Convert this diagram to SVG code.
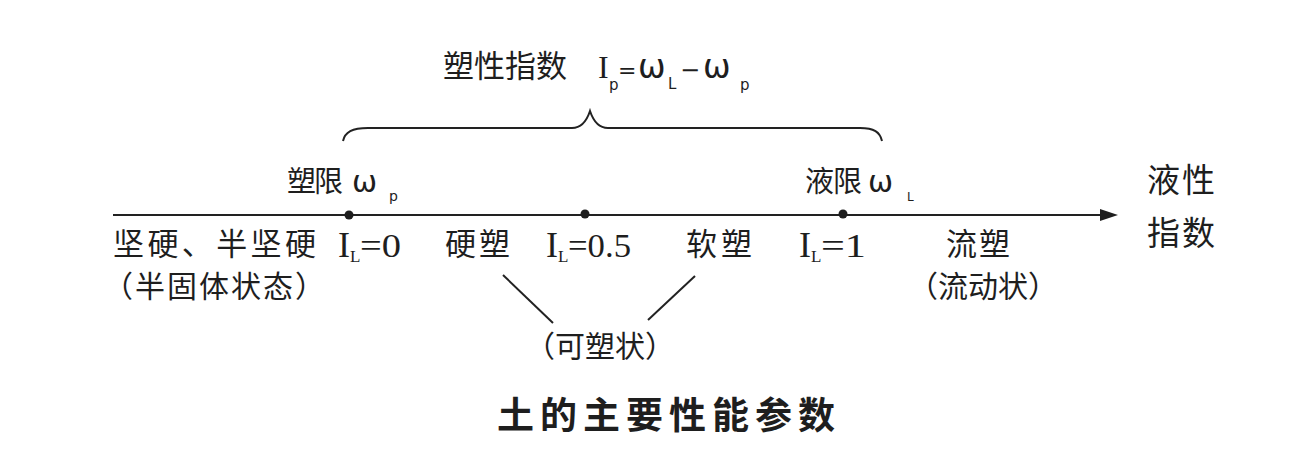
<svg xmlns="http://www.w3.org/2000/svg" width="1306" height="466" viewBox="0 0 1306 466">
<style>
.cjk{font-family:"Noto Sans CJK SC","Noto Sans",sans-serif;fill:#1e1e1e;}
.ser{font-family:"Liberation Serif","DejaVu Serif",serif;fill:#1e1e1e;}
.sans{font-family:"DejaVu Sans","Liberation Sans",sans-serif;fill:#1e1e1e;}
.ln{stroke:#222;stroke-width:2;fill:none;}
</style>
<defs>
<marker id="arr" markerWidth="20" markerHeight="14" refX="0" refY="7" orient="auto" markerUnits="userSpaceOnUse">
<path d="M0,1 L18,7 L0,13 Z" fill="#1e1e1e"/>
</marker>
</defs>
<rect width="1306" height="466" fill="#ffffff"/>
<g id="connectors">
<line class="ln" x1="113" y1="215" x2="1100" y2="215" marker-end="url(#arr)"/>
<path class="ln" stroke-width="2.5" d="M343,141 C345,132 352,128 368,128 L572,128 C582,128 587,120 590,111 C593,120 598,128 608,128 L860,128 C874,128 880,132 882,141"/>
<line class="ln" x1="503" y1="275" x2="553" y2="323"/>
<line class="ln" x1="695" y1="276" x2="648" y2="320"/>
<circle cx="349" cy="215" r="4.5" fill="#1e1e1e"/>
<circle cx="585" cy="214" r="4.5" fill="#1e1e1e"/>
<circle cx="843" cy="214" r="4.5" fill="#1e1e1e"/>
</g>
<g id="title-ip">
<text class="cjk" x="443" y="77" font-size="31" textLength="124">塑性指数</text>
<text class="sans" x="598" y="78" font-size="30"><tspan class="ser" font-size="32">I</tspan><tspan x="609" dy="12" font-size="15">p</tspan><tspan x="618" dy="-12" font-size="22">=</tspan><tspan x="638" font-size="33">ω</tspan><tspan x="668" dy="11" font-size="15">L</tspan><tspan x="680" dy="-11" font-size="24">−</tspan><tspan x="703" font-size="33">ω</tspan><tspan x="740" dy="12" font-size="15">p</tspan></text>
</g>
<g id="plastic-limit">
<text class="cjk" x="287" y="192" font-size="29" textLength="56">塑限</text>
<text class="sans" x="352" y="192" font-size="30">ω<tspan x="389" dy="9" font-size="14">p</tspan></text>
</g>
<g id="liquid-limit">
<text class="cjk" x="805" y="192" font-size="29" textLength="57">液限</text>
<text class="sans" x="868" y="192" font-size="30">ω<tspan x="907" dy="9" font-size="12">L</tspan></text>
</g>
<g id="axis-label">
<text class="cjk" x="1147" y="192" font-size="33" textLength="68">液性</text>
<text class="cjk" x="1147" y="245" font-size="33" textLength="68">指数</text>
</g>
<g id="hard">
<text class="cjk" x="113" y="255" font-size="31" textLength="203">坚硬、半坚硬</text>
<text class="cjk" x="103" y="297" font-size="30" textLength="222">（半固体状态）</text>
</g>
<g id="il0">
<text class="ser" x="338" y="257" font-size="36">I<tspan x="350" dy="5" font-size="17">L</tspan><tspan x="360" dy="-5" font-size="34" textLength="41" lengthAdjust="spacingAndGlyphs">=0</tspan></text>
</g>
<g id="hard-plastic">
<text class="cjk" x="445" y="255" font-size="31" textLength="65">硬塑</text>
</g>
<g id="il05">
<text class="ser" x="546" y="257" font-size="36">I<tspan x="558" dy="5" font-size="17">L</tspan><tspan x="568" dy="-5" font-size="34" textLength="63" lengthAdjust="spacingAndGlyphs">=0.5</tspan></text>
</g>
<g id="soft-plastic">
<text class="cjk" x="686" y="255" font-size="31" textLength="66">软塑</text>
</g>
<g id="il1">
<text class="ser" x="799" y="257" font-size="36">I<tspan x="811" dy="5" font-size="17">L</tspan><tspan x="821" dy="-5" font-size="34" textLength="45" lengthAdjust="spacingAndGlyphs">=1</tspan></text>
</g>
<g id="flow-plastic">
<text class="cjk" x="946" y="255" font-size="31" textLength="64">流塑</text>
<text class="cjk" x="908" y="297" font-size="30" textLength="150">（流动状）</text>
</g>
<g id="plastic-state">
<text class="cjk" x="525" y="357" font-size="30" textLength="150">（可塑状）</text>
</g>
<g id="caption">
<text class="cjk" x="497" y="429" font-size="37" style="font-weight:bold" textLength="338">土的主要性能参数</text>
</g>
</svg>
